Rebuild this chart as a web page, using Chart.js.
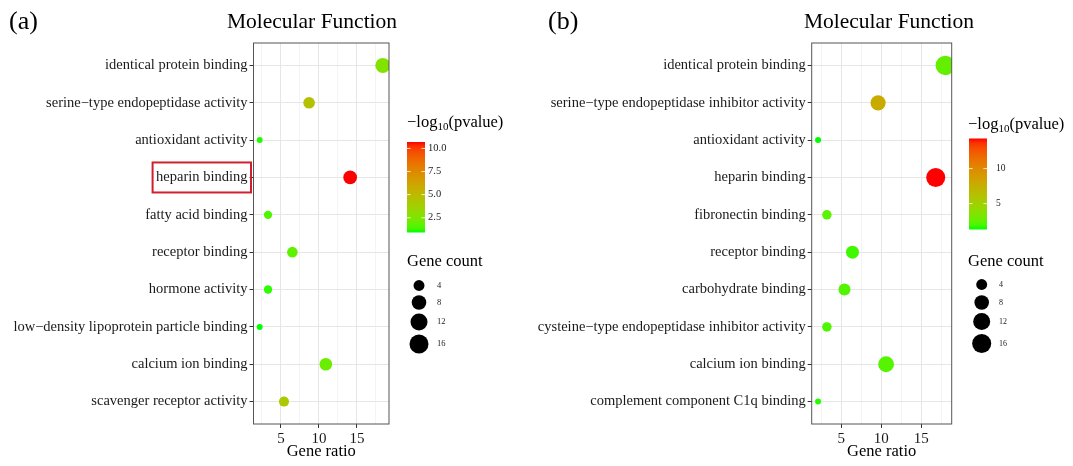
<!DOCTYPE html>
<html>
<head>
<meta charset="utf-8">
<script src="https://cdn.jsdelivr.net/npm/chart.js@4.4.1/dist/chart.umd.min.js"></script>
<style>
  html, body { margin: 0; padding: 0; background: #fff; }
  #wrap { position: relative; width: 1073px; height: 466px; }
  canvas { position: absolute; top: 0; }
  #chartA { left: 0; }
  #chartB { left: 536px; }
</style>
</head>
<body>
<div id="wrap">
  <canvas id="chartA" width="536" height="466"></canvas>
  <canvas id="chartB" width="537" height="466"></canvas>
</div>
<script>
const SERIF = '"Liberation Serif", "Times New Roman", serif';

// (a) enriched terms, top row first
const termsA = [
  "identical protein binding",
  "serine−type endopeptidase activity",
  "antioxidant activity",
  "heparin binding",
  "fatty acid binding",
  "receptor binding",
  "hormone activity",
  "low−density lipoprotein particle binding",
  "calcium ion binding",
  "scavenger receptor activity"
];
const ratioA = [18.4, 8.7, 2.2, 14.1, 3.3, 6.5, 3.3, 2.2, 10.9, 5.4];
const countA = [17, 8, 2, 13, 3, 6, 3, 2, 10, 5];
const logpA = [2.6, 4.6, 1.0, 10.7, 1.5, 1.7, 1.1, 0.9, 2.0, 4.2];
const barTicksA = [2.5, 5, 7.5, 10];
const barLabelsA = ["2.5", "5.0", "7.5", "10.0"];

// (b)
const termsB = [
  "identical protein binding",
  "serine−type endopeptidase inhibitor activity",
  "antioxidant activity",
  "heparin binding",
  "fibronectin binding",
  "receptor binding",
  "carbohydrate binding",
  "cysteine−type endopeptidase inhibitor activity",
  "calcium ion binding",
  "complement component C1q binding"
];
const ratioB = [18.0, 9.6, 2.1, 16.8, 3.2, 6.4, 5.4, 3.2, 10.6, 2.1];
const countB = [17, 9, 2, 16, 3, 6, 5, 3, 10, 2];
const logpB = [2.6, 7.8, 1.3, 14.3, 2.3, 1.8, 2.1, 2.0, 2.2, 1.5];
const barTicksB = [5, 10];
const barLabelsB = ["5", "10"];

const ratioMajor = [5, 10, 15];
const ratioMinor = [2.5, 7.5, 12.5, 17.5];
const countKeys = [4, 8, 12, 16];

// green -> red through Lab, like ggplot's default gradient
function toLinear(c) { c /= 255; return c <= 0.04045 ? c / 12.92 : Math.pow((c + 0.055) / 1.055, 2.4); }
function fromLinear(c) {
  c = c <= 0.0031308 ? 12.92 * c : 1.055 * Math.pow(Math.max(c, 0), 1 / 2.4) - 0.055;
  return Math.round(Math.min(1, Math.max(0, c)) * 255);
}
function rgbToLab(rgb) {
  const [r, g, b] = rgb.map(toLinear);
  const x = (0.4124 * r + 0.3576 * g + 0.1805 * b) / 0.95047;
  const y = 0.2126 * r + 0.7152 * g + 0.0722 * b;
  const z = (0.0193 * r + 0.1192 * g + 0.9505 * b) / 1.08883;
  const f = t => t > 0.008856 ? Math.cbrt(t) : 7.787 * t + 16 / 116;
  return [116 * f(y) - 16, 500 * (f(x) - f(y)), 200 * (f(y) - f(z))];
}
function labToRgb([L, a, bb]) {
  const fy = (L + 16) / 116, fx = fy + a / 500, fz = fy - bb / 200;
  const inv = t => t ** 3 > 0.008856 ? t ** 3 : (t - 16 / 116) / 7.787;
  const x = inv(fx) * 0.95047, y = inv(fy), z = inv(fz) * 1.08883;
  const r = 3.2406 * x - 1.5372 * y - 0.4986 * z;
  const g = -0.9689 * x + 1.8758 * y + 0.0415 * z;
  const b = 0.0557 * x - 0.2040 * y + 1.0570 * z;
  return `rgb(${fromLinear(r)},${fromLinear(g)},${fromLinear(b)})`;
}
const labLow = rgbToLab([0, 255, 0]);
const labHigh = rgbToLab([255, 0, 0]);
const gradientColour = t => labToRgb(labLow.map((v, i) => v + (labHigh[i] - v) * t));

function makePanel(id, cfg) {
  const n = cfg.terms.length;
  const lo = Math.min(...cfg.logp), hi = Math.max(...cfg.logp);
  const cLo = Math.min(...cfg.count), cHi = Math.max(...cfg.count);
  const rLo = Math.min(...cfg.ratio), rHi = Math.max(...cfg.ratio);
  const expand = (rHi - rLo) * 0.05;
  // area-scaled dot size, diameter range in px
  const dot = (c, range) => (range[0] + (range[1] - range[0]) * Math.sqrt((c - cLo) / (cHi - cLo))) / 2;

  const points = cfg.ratio.map((r, i) => ({ x: r, y: i, r: dot(cfg.count[i], cfg.dotSize) }));
  const colours = cfg.logp.map(v => gradientColour((v - lo) / (hi - lo)));
  const L = cfg.legend;

  const decor = {
    id: 'decor',
    afterDraw(chart) {
      const ctx = chart.ctx, area = chart.chartArea;
      ctx.save();
      // panel frame
      ctx.strokeStyle = '#555';
      ctx.lineWidth = 1;
      ctx.strokeRect(area.left, area.top, area.right - area.left, area.bottom - area.top);

      ctx.fillStyle = '#000';
      ctx.textBaseline = 'alphabetic';
      ctx.textAlign = 'left';
      ctx.font = `26px ${SERIF}`;
      ctx.fillText(cfg.tag, cfg.tagX, 29);
      ctx.textAlign = 'center';
      ctx.font = `21.5px ${SERIF}`;
      ctx.fillText('Molecular Function', cfg.titleX, 28);

      // colour bar
      ctx.textAlign = 'left';
      ctx.textBaseline = 'middle';
      ctx.font = `16.5px ${SERIF}`;
      let tx = L.x;
      ctx.fillText('−log', tx, L.titleY);
      tx += ctx.measureText('−log').width;
      ctx.font = `11px ${SERIF}`;
      ctx.fillText('10', tx, L.titleY + 4);
      tx += ctx.measureText('10').width;
      ctx.font = `16.5px ${SERIF}`;
      ctx.fillText('(pvalue)', tx, L.titleY);

      const barH = L.barBottom - L.barTop;
      const grad = ctx.createLinearGradient(0, L.barBottom, 0, L.barTop);
      for (let k = 0; k <= 20; k++) grad.addColorStop(k / 20, gradientColour(k / 20));
      ctx.fillStyle = grad;
      ctx.fillRect(L.barX, L.barTop, L.barW, barH);
      ctx.strokeStyle = 'rgba(255,255,255,0.8)';
      ctx.fillStyle = '#222';
      ctx.font = `${L.barFont}px ${SERIF}`;
      cfg.barTicks.forEach((v, i) => {
        const y = L.barBottom - (v - lo) / (hi - lo) * barH;
        ctx.beginPath();
        ctx.moveTo(L.barX, y); ctx.lineTo(L.barX + 3.6, y);
        ctx.moveTo(L.barX + L.barW - 3.6, y); ctx.lineTo(L.barX + L.barW, y);
        ctx.stroke();
        ctx.fillText(cfg.barLabels[i], L.barLabelX, y);
      });

      // gene count keys
      ctx.fillStyle = '#000';
      ctx.font = `16.5px ${SERIF}`;
      ctx.fillText('Gene count', L.x, L.countTitleY);
      ctx.font = `${L.keyFont}px ${SERIF}`;
      countKeys.forEach((c, i) => {
        ctx.fillStyle = '#000';
        ctx.beginPath();
        ctx.arc(L.keyX, L.keyY[i], dot(c, L.keyDotSize), 0, Math.PI * 2);
        ctx.fill();
        ctx.fillStyle = '#222';
        ctx.fillText(String(c), L.keyLabelX, L.keyY[i]);
      });

      if (cfg.boxTerm != null) {
        const yPix = chart.scales.y.getPixelForValue(cfg.boxTerm);
        ctx.font = `14.5px ${SERIF}`;
        const w = ctx.measureText(cfg.terms[cfg.boxTerm]).width;
        const right = area.left - 6;
        ctx.strokeStyle = '#d0202e';
        ctx.lineWidth = 2;
        ctx.strokeRect(right - w - 3.5, yPix - 15, w + 7, 30);
      }
      ctx.restore();
    }
  };

  return new Chart(document.getElementById(id), {
    type: 'bubble',
    data: {
      datasets: [{
        data: points,
        backgroundColor: colours,
        borderWidth: 0,
        hoverBorderWidth: 0
      }]
    },
    options: {
      responsive: false,
      animation: false,
      events: [],
      layout: { padding: { left: 0, right: cfg.padRight, top: 43, bottom: 0 } },
      plugins: { legend: { display: false }, tooltip: { enabled: false } },
      scales: {
        x: {
          type: 'linear',
          min: rLo - expand,
          max: rHi + expand,
          afterBuildTicks: s => { s.ticks = [...ratioMinor, ...ratioMajor].sort((a, b) => a - b).map(v => ({ value: v })); },
          afterFit: s => { s.height = 42; },
          border: { display: false },
          grid: {
            color: c => ratioMajor.includes(c.tick.value) ? '#e6e6e6' : '#efefef',
            lineWidth: c => ratioMajor.includes(c.tick.value) ? 1 : 0.7,
            tickColor: c => ratioMajor.includes(c.tick.value) ? '#333' : 'rgba(0,0,0,0)',
            tickLength: 4
          },
          ticks: {
            callback: v => ratioMajor.includes(v) ? String(v) : '',
            autoSkip: false,
            maxRotation: 0,
            padding: 2,
            color: '#1a1a1a',
            font: { family: SERIF, size: 15 }
          },
          title: {
            display: true,
            text: 'Gene ratio',
            color: '#000',
            font: { family: SERIF, size: 16.5 },
            padding: { top: 0, bottom: 4 }
          }
        },
        y: {
          type: 'linear',
          reverse: true,
          min: -0.6,
          max: n - 1 + 0.6,
          afterBuildTicks: s => { s.ticks = cfg.terms.map((t, i) => ({ value: i })); },
          afterFit: s => { s.width = cfg.axisW; },
          border: { display: false },
          grid: { color: '#e6e6e6', lineWidth: 1, tickColor: '#333', tickLength: 4 },
          ticks: {
            callback: v => cfg.terms[v],
            autoSkip: false,
            padding: 2,
            color: '#1a1a1a',
            font: { family: SERIF, size: 14.5 }
          }
        }
      }
    },
    plugins: [decor]
  });
}

makePanel('chartA', {
  tag: '(a)', tagX: 9, titleX: 312,
  terms: termsA, ratio: ratioA, count: countA, logp: logpA,
  barTicks: barTicksA, barLabels: barLabelsA,
  dotSize: [6, 15],
  axisW: 253.5, padRight: 147,
  boxTerm: 3,
  legend: {
    x: 407, titleY: 123,
    barX: 407, barW: 18, barTop: 142, barBottom: 232.5, barLabelX: 428, barFont: 10.5,
    countTitleY: 262,
    keyX: 419, keyY: [285.5, 302.5, 322, 344], keyLabelX: 437, keyFont: 8.5,
    keyDotSize: [6, 19.5]
  }
});

makePanel('chartB', {
  tag: '(b)', tagX: 12, titleX: 353,
  terms: termsB, ratio: ratioB, count: countB, logp: logpB,
  barTicks: barTicksB, barLabels: barLabelsB,
  dotSize: [6, 19.5],
  axisW: 275.7, padRight: 121.3,
  boxTerm: null,
  legend: {
    x: 432, titleY: 125,
    barX: 433, barW: 18, barTop: 138.5, barBottom: 229.5, barLabelX: 460, barFont: 9.5,
    countTitleY: 262,
    keyX: 445.7, keyY: [284.5, 302.5, 321.5, 343.5], keyLabelX: 463, keyFont: 8,
    keyDotSize: [6, 19.5]
  }
});
</script>
</body>
</html>
